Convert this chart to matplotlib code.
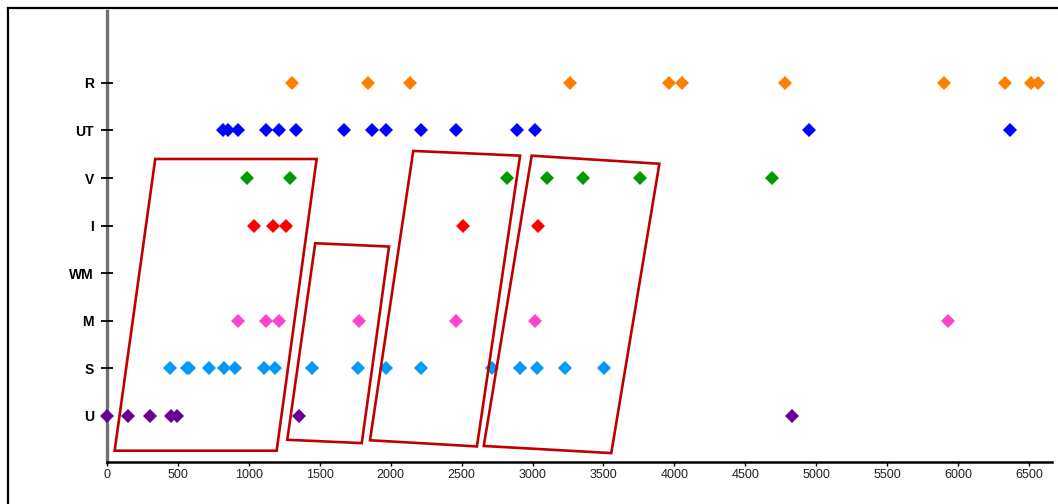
import matplotlib
matplotlib.use("Agg")
from matplotlib import pyplot as plt
from matplotlib.patches import Polygon
from matplotlib.lines import Line2D

plt.rcParams['font.family'] = ['Liberation Sans', 'DejaVu Sans']

# categories from bottom to top
categories = ['U', 'S', 'M', 'WM', 'I', 'V', 'UT', 'R']
colors = {
	'U': '#660099',
	'S': '#0099ff',
	'M': '#ff44cc',
	'WM': '#000000',
	'I': '#ff0000',
	'V': '#009900',
	'UT': '#0000ff',
	'R': '#ff8000',
}

r_vals = [1307, 1838, 2137, 3267, 3965, 4055, 4781, 5901, 6333, 6516, 6563]
ut_vals = [816, 851, 921, 1119, 1215, 1334, 1674, 1868, 1967, 2214, 2460, 2890, 3017, 4949, 6366]
v_vals = [985, 1288, 2820, 3104, 3356, 3760, 4688]
i_vals = [1038, 1172, 1260, 2510, 3041]
wm_vals = []
m_vals = [921, 1121, 1215, 1777, 2462, 3019, 5931]
s_vals = [444, 562, 578, 719, 823, 905, 1109, 1182, 1443, 1767, 1967, 2214, 2712, 2912, 3029, 3227, 3504]
u_vals = [2, 150, 303, 451, 496, 1354, 4829]

values = {'U': u_vals, 'S': s_vals, 'M': m_vals, 'WM': wm_vals,
	'I': i_vals, 'V': v_vals, 'UT': ut_vals, 'R': r_vals}

# outlined groups (x value, category position)
groups = [
	[(340, 5.40), (1478, 5.40), (1196, -0.73), (54, -0.73)],
	[(1468, 3.63), (1988, 3.56), (1796, -0.57), (1271, -0.50)],
	[(2159, 5.57), (2912, 5.47), (2608, -0.64), (1854, -0.51)],
	[(2994, 5.47), (3894, 5.30), (3555, -0.78), (2656, -0.63)],
]

fig = plt.figure(figsize=(10.58, 5.04), dpi=100)
ax = fig.add_axes([107/1058, 42/504, 945/1058, 451/504])

for idx, cat in enumerate(categories):
	xs = values[cat]
	if len(xs) == 0:
		continue
	ax.plot(xs, [idx]*len(xs), linestyle='none', marker='D', markersize=6.8,
		color=colors[cat], markeredgewidth=0, clip_on=False, zorder=3)

for g in groups:
	ax.add_patch(Polygon(g, closed=True, fill=False, edgecolor='#c00000',
		linewidth=1.9, joinstyle='miter', zorder=4))

ax.set_xlim(0, 6662)
ax.set_ylim(-0.967, 8.51)
ax.set_xticks(range(0, 6501, 500))
ax.set_yticks(range(len(categories)))
ax.set_yticklabels(categories, fontweight='bold', fontsize=10)
ax.tick_params(axis='y', direction='inout', length=9, width=1.3, pad=5, colors='black')
ax.tick_params(axis='x', direction='out', length=3, width=1, pad=2, labelsize=9,
	colors='black', labelcolor='#222222')

for side in ['top', 'right']:
	ax.spines[side].set_visible(False)
ax.spines['left'].set_color('#707070')
ax.spines['left'].set_linewidth(2.4)
ax.spines['left'].set_zorder(1)
ax.spines['bottom'].set_color('black')
ax.spines['bottom'].set_linewidth(1.8)

# outer frame along the left and top edges
fx = 8/1058
fy = 1 - 8/504
fig.add_artist(Line2D([fx, fx], [0, fy], transform=fig.transFigure, color='black', linewidth=1.6))
fig.add_artist(Line2D([fx, 1], [fy, fy], transform=fig.transFigure, color='black', linewidth=1.6))

fig.savefig('out.png', dpi=100)
